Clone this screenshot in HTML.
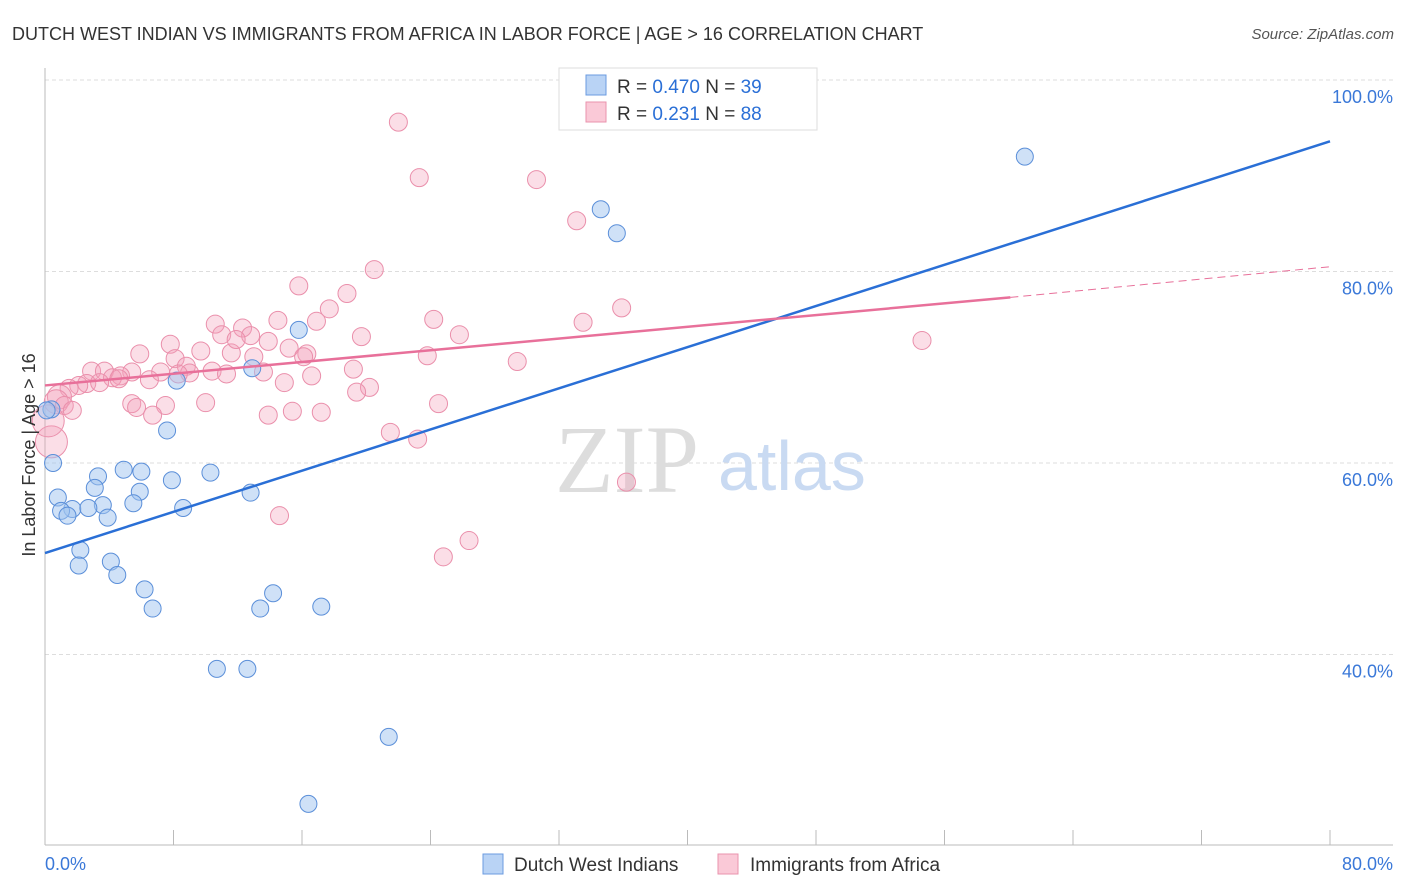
<!DOCTYPE html>
<html><head><meta charset="utf-8"><style>
body{margin:0;background:#fff;font-family:"Liberation Sans",sans-serif;}
svg{display:block}
</style></head><body>
<svg id="chart" width="1406" height="892">
<text x="12" y="40" font-size="18" fill="#333">DUTCH WEST INDIAN VS IMMIGRANTS FROM AFRICA IN LABOR FORCE | AGE &gt; 16 CORRELATION CHART</text>
<text x="1394" y="39" font-size="15" fill="#555" text-anchor="end" font-style="italic">Source: ZipAtlas.com</text>
<g id="grid"></g>
<text x="555" y="492" font-size="96" fill="#ddd" font-family="Liberation Serif,serif">ZIP</text>
<text x="718" y="490" font-size="70" fill="#c9daf2">atlas</text>
<g id="marks"></g>
<g id="lines"></g>
<text x="35" y="455" font-size="18" fill="#333" transform="rotate(-90 35 455)" text-anchor="middle">In Labor Force | Age &gt; 16</text>
<text x="45" y="870" font-size="18" fill="#3a78d8">0.0%</text>
<text x="1393" y="870" font-size="18" fill="#3a78d8" text-anchor="end">80.0%</text>
<g>
<rect x="559" y="68" width="258" height="62" fill="#fff" stroke="#ddd"/>
<rect x="586" y="75" width="20" height="20" fill="#b9d3f5" stroke="#6b9be0"/>
<text x="617" y="93" font-size="19" fill="#333">R = <tspan fill="#2a6fd6">0.470</tspan>   N = <tspan fill="#2a6fd6">39</tspan></text>
<rect x="586" y="102" width="20" height="20" fill="#fac9d7" stroke="#ea93ad"/>
<text x="617" y="120" font-size="19" fill="#333">R =  <tspan fill="#2a6fd6">0.231</tspan>   N = <tspan fill="#2a6fd6">88</tspan></text>
</g>
<g>
<rect x="483" y="854" width="20" height="20" fill="#b9d3f5" stroke="#6b9be0"/>
<text x="514" y="871" font-size="19" fill="#333">Dutch West Indians</text>
<rect x="718" y="854" width="20" height="20" fill="#fac9d7" stroke="#ea93ad"/>
<text x="750" y="871" font-size="19" fill="#333">Immigrants from Africa</text>
</g>
</svg>
<script>
const yTicks=[40,60,80,100];
const yTickLabels=["40.0%","60.0%","80.0%","100.0%"];
const xTicks=[0,8,16,24,32,40,48,56,64,72,80];
const blueX=[61.0,34.6,35.6,15.8,8.2,7.6,0.5,0.4,3.3,4.9,6.0,10.3,7.9,3.1,5.9,12.8,0.8,3.6,5.5,1.7,1.0,2.7,1.4,3.9,8.6,2.2,4.1,2.1,4.5,6.2,6.7,14.2,13.4,17.2,10.7,12.6,21.4,16.4,12.9,0.1];
const blueY=[92.0,86.5,84.0,73.9,68.6,63.4,60.0,65.6,58.6,59.3,59.1,59.0,58.2,57.4,57.0,56.9,56.4,55.6,55.8,55.2,55.0,55.3,54.5,54.3,55.3,50.9,49.7,49.3,48.3,46.8,44.8,46.4,44.8,45.0,38.5,38.5,31.4,24.4,69.9,65.5];
const pinkX=[22.0,23.3,30.6,33.1,20.5,15.8,18.8,17.7,35.9,24.2,33.5,14.5,16.9,10.6,12.3,11.0,12.8,19.7,25.8,54.6,7.8,13.9,9.7,5.9,15.2,16.3,11.6,16.1,23.8,13.0,8.1,29.4,8.8,10.4,5.4,7.2,9.0,11.3,13.6,19.2,2.9,3.7,4.7,6.5,4.2,2.6,3.4,2.1,1.5,0.9,0.7,16.6,14.9,20.2,19.4,1.2,5.4,5.7,7.5,10.0,24.5,13.9,15.4,17.2,6.7,1.7,21.5,23.2,36.2,14.6,26.4,24.8,0.4,0.2,8.3,4.6,11.9];
const pinkY=[95.6,89.8,89.6,85.3,80.2,78.5,77.7,76.1,76.2,75.0,74.7,74.9,74.8,74.5,74.1,73.4,73.3,73.2,73.4,72.8,72.4,72.7,71.7,71.4,72.0,71.4,71.5,71.1,71.2,71.1,70.9,70.6,70.1,69.6,69.5,69.5,69.4,69.3,69.5,69.8,69.6,69.6,69.1,68.7,68.9,68.3,68.4,68.1,67.8,66.9,66.4,69.1,68.4,67.9,67.4,66.0,66.2,65.8,66.0,66.3,66.2,65.0,65.4,65.3,65.0,65.5,63.2,62.5,58.0,54.5,51.9,50.2,62.2,64.4,69.3,68.8,72.9];
const blueTrend=[[0,50.6],[80,93.6]];
const pinkTrend=[[0,68.1],[60.1,77.3]];
const pinkTrendExt=[[60.1,77.3],[80,80.5]];
const X=v=>45+v*1285/80, Y=v=>80+(100-v)*9.575;
const NS="http://www.w3.org/2000/svg";
const grid=document.getElementById('grid'),marks=document.getElementById('marks'),lines=document.getElementById('lines');
function mk(tag,attrs,parent){const e=document.createElementNS(NS,tag);for(const k in attrs)e.setAttribute(k,attrs[k]);parent.appendChild(e);return e;}
yTicks.forEach((t,i)=>{
  const l=mk('line',{x1:45,x2:1393,y1:Y(t),y2:Y(t),stroke:'#ddd','stroke-dasharray':'4 3'},grid);
  
  
  const tx=mk('text',{x:1393,y:Y(t)+23,'font-size':18,fill:'#3a78d8','text-anchor':'end'},grid);
  tx.textContent=yTickLabels[i];
  
  
});
const ax=mk('line',{x1:45,x2:45,y1:68,y2:845,stroke:'#bbb'},grid);


const bx=mk('line',{x1:45,x2:1393,y1:845,y2:845,stroke:'#bbb'},grid);


xTicks.forEach(t=>{
  const l=mk('line',{x1:X(t),x2:X(t),y1:830,y2:845,stroke:'#bbb'},grid);
  
  
});
pinkX.forEach((v,i)=>{
  const r=v<1?(v<0.5?16:12):9;
  const c=mk('circle',{cx:X(v),cy:Y(pinkY[i]),r:r,fill:'rgba(244,160,185,0.35)',stroke:'#ea8fab','stroke-width':1},marks);
  
  
});
blueX.forEach((v,i)=>{
  const c=mk('circle',{cx:X(v),cy:Y(blueY[i]),r:8.5,fill:'rgba(160,195,240,0.5)',stroke:'#5b8fd9','stroke-width':1},marks);
  
  
});
function ln(p,st,dash,name){
  const l=mk('line',{x1:X(p[0][0]),y1:Y(p[0][1]),x2:X(p[1][0]),y2:Y(p[1][1]),stroke:st,'stroke-width':dash?1:2.5},lines);
  if(dash)l.setAttribute('stroke-dasharray','8 5');
  
  
}
ln(blueTrend,'#2a6fd6',false,'trend-line-dutch');
ln(pinkTrend,'#e8709a',false,'trend-line-africa');
ln(pinkTrendExt,'#e8709a',true,'trend-line-africa-extension');
</script>
</body></html>
